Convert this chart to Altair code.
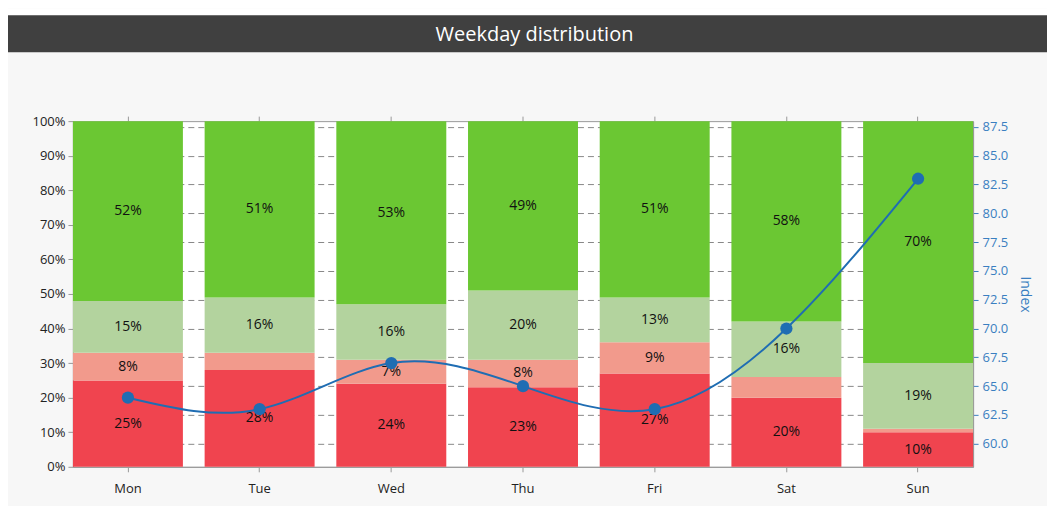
import altair as alt
import pandas as pd

days = ["Mon", "Tue", "Wed", "Thu", "Fri", "Sat", "Sun"]
seg_names = ["A", "B", "C", "D"]
red = [25, 28, 24, 23, 27, 20, 10]
pink = [8, 5, 7, 8, 9, 6, 1]
lightgreen = [15, 16, 16, 20, 13, 16, 19]
green = [52, 51, 53, 49, 51, 58, 70]
index_vals = [64, 63, 67, 65, 63, 70, 83]
seg_colors = ["#f0444f", "#f29a8c", "#b3d39e", "#6bc733"]
left_ticks = [0, 10, 20, 30, 40, 50, 60, 70, 80, 90, 100]
right_ticks = [60.0, 62.5, 65.0, 67.5, 70.0, 72.5, 75.0, 77.5, 80.0, 82.5, 85.0, 87.5]

rows = []
for i, d in enumerate(days):
    for k, (name, series) in enumerate(zip(seg_names, [red, pink, lightgreen, green])):
        rows.append({"day": d, "seg": name, "ord": k, "pct": series[i]})
df = pd.DataFrame(rows)
line_df = pd.DataFrame({"day": days, "index": index_vals})

FONT = "Open Sans"
x_scale = alt.Scale(domain=days, paddingInner=0.165, paddingOuter=0)

base = alt.Chart(df).transform_stack(
    stack="pct", groupby=["day"], as_=["start", "end"], sort=[alt.SortField("ord")]
).transform_calculate(mid="(datum.start + datum.end) / 2")

bars = base.mark_bar().encode(
    x=alt.X("day:N", sort=days, scale=x_scale,
            axis=alt.Axis(orient="bottom", title=None, labelAngle=0, labelFontSize=13,
                          labelFont=FONT, labelColor="#222", tickColor="#999",
                          domainColor="#999", tickSize=5, labelPadding=11, grid=False)),
    y=alt.Y("start:Q", scale=alt.Scale(domain=[0, 100], nice=False),
            axis=alt.Axis(orient="left", title=None, values=left_ticks,
                          labelExpr="datum.value + '%'", labelFontSize=13, labelFont=FONT,
                          labelColor="#222", tickColor="#999", domainColor="#999",
                          tickSize=5, labelPadding=3, grid=False)),
    y2="end:Q",
    color=alt.Color("seg:N", scale=alt.Scale(domain=seg_names, range=seg_colors), legend=None),
)

labels = base.transform_filter("datum.pct >= 7").transform_calculate(
    label="datum.pct + '%'"
).mark_text(font=FONT, fontSize=14, color="#111", baseline="middle").encode(
    x=alt.X("day:N", sort=days, scale=x_scale, axis=None),
    y=alt.Y("mid:Q", scale=alt.Scale(domain=[0, 100], nice=False), axis=None),
    text=alt.Text("label:N"),
)

line_base = alt.Chart(line_df)
line = line_base.mark_line(color="#1f6db3", strokeWidth=2, interpolate="natural").encode(
    x=alt.X("day:N", sort=days, scale=x_scale,
            axis=alt.Axis(orient="top", title=None, labels=False, tickColor="#999",
                          domain=False, tickSize=5, grid=False)),
    y=alt.Y("index:Q", scale=alt.Scale(domain=[58, 88], nice=False, zero=False),
            axis=alt.Axis(orient="right", title="Index", values=right_ticks, format=".1f",
                          labelFontSize=13, labelFont=FONT, labelColor="#3a7fc1",
                          tickColor="#3a7fc1", domainColor="#999", tickSize=5, labelPadding=4,
                          titleColor="#3a7fc1", titleFont=FONT, titleFontSize=14,
                          titleFontWeight="normal", titlePadding=10,
                          grid=True, gridDash=[6, 4], gridColor="#888", gridWidth=1)),
)
points = line_base.mark_circle(color="#1f6db3", size=150, opacity=1).encode(
    x=alt.X("day:N", sort=days, scale=x_scale, axis=None),
    y=alt.Y("index:Q", scale=alt.Scale(domain=[58, 88], nice=False, zero=False), axis=None),
)

deco_df = pd.DataFrame({"t": [0]})
white_strip = alt.Chart(deco_df).mark_rect(color="white").encode(
    x=alt.value(-65), x2=alt.value(975), y=alt.value(-113), y2=alt.value(-106))
title_band = alt.Chart(deco_df).mark_rect(color="#404040").encode(
    x=alt.value(-65), x2=alt.value(975), y=alt.value(-106), y2=alt.value(-69))
title_text = alt.Chart(deco_df).mark_text(
    text="Weekday distribution", font=FONT, fontSize=20, color="white",
    align="center", baseline="middle").encode(x=alt.value(462), y=alt.value(-86))

chart = alt.layer(
    bars, labels, line, points, white_strip, title_band, title_text
).resolve_scale(y="independent").resolve_axis(x="independent").properties(
    width=901, height=346,
    padding={"left": 0, "top": 0, "right": 0, "bottom": 10},
    background="#f7f7f7",
).configure_view(fill="white", stroke="#999")

chart.save("out.html", embed_options={"renderer": "svg", "actions": False})
